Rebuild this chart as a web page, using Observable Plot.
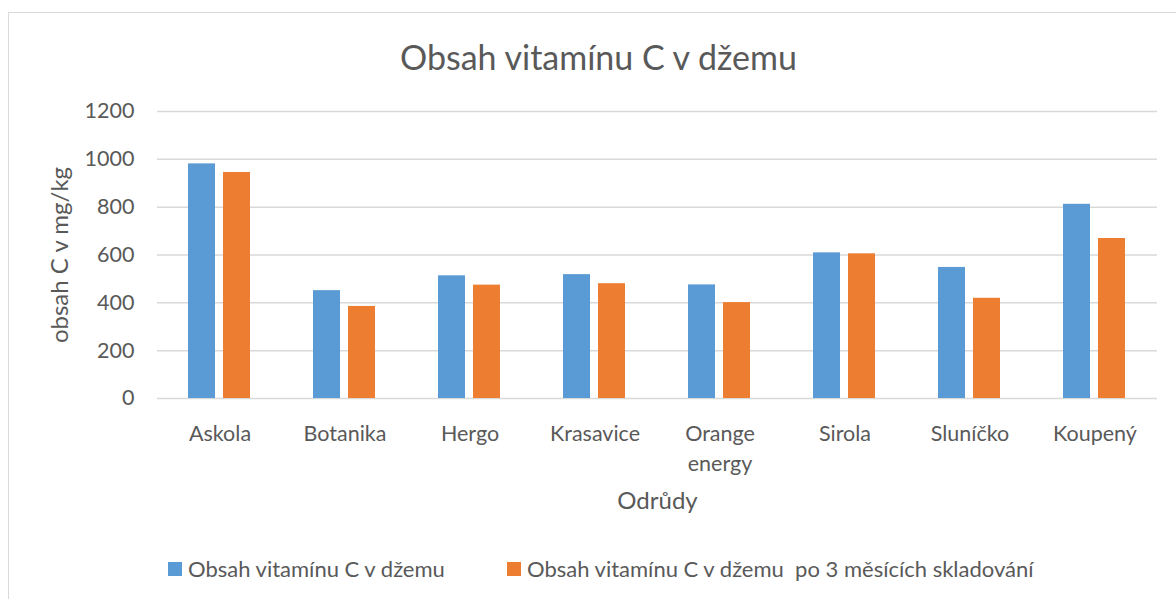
<!DOCTYPE html>
<html><head><meta charset="utf-8">
<script src="https://cdn.jsdelivr.net/npm/d3@7"></script>
<script src="https://cdn.jsdelivr.net/npm/@observablehq/plot@0.6"></script>
<style>
html,body{margin:0;padding:0;background:#fff;overflow:hidden;}
body{font-family:Lato,"Open Sans",sans-serif;color:#595959;}
#wrap{position:relative;width:1176px;height:599px;overflow:hidden;}
#frame{position:absolute;left:8px;top:12px;width:1300px;height:700px;border:1px solid #d9d9d9;box-sizing:border-box;}
#title{position:absolute;left:0;top:37px;width:1197px;text-align:center;font-size:34px;line-height:40px;white-space:nowrap;}
#chart{position:absolute;left:0;top:90px;}
#legend{position:absolute;top:556px;left:0;width:1176px;height:26px;font-size:22px;line-height:26px;}
.item{position:absolute;top:0;display:flex;align-items:center;white-space:pre;}
.sw{width:14px;height:14px;margin-right:6px;flex:none;}
</style></head>
<body>
<div id="wrap">
  <div id="frame"></div>
  <div id="title">Obsah vitamínu C v džemu</div>
  <div id="chart"></div>
  <div id="legend"></div>
</div>
<script>
const categories = ["Askola","Botanika","Hergo","Krasavice","Orange energy","Sirola","Sluníčko","Koupený"];
const xTickLabels = ["Askola","Botanika","Hergo","Krasavice","Orange\nenergy","Sirola","Sluníčko","Koupený"];
const seriesNames = ["Obsah vitamínu C v džemu","Obsah vitamínu C v džemu  po 3 měsících skladování"];
const freshValues = [981,451,513,518,475,609,548,812];
const storedValues = [945,385,474,480,401,605,419,669];
const yTicks = [0,200,400,600,800,1000,1200];
const colors = ["#5b9bd5","#ed7d31"];

const rows = [];
categories.forEach((c,i)=>{
  rows.push({category:c, series:seriesNames[0], value:freshValues[i]});
  rows.push({category:c, series:seriesNames[1], value:storedValues[i]});
});

const H = 430;
const chart = Plot.plot({
  width: 1176,
  height: H,
  marginLeft: 153,
  marginRight: 16,
  marginTop: 21,
  marginBottom: 122,
  style: {fontFamily: "Lato, 'Open Sans', sans-serif", fontSize: "21.5px", color: "#595959", background: "transparent", overflow: "visible"},
  fx: {domain: categories, padding: 0, label: null},
  x: {domain: seriesNames, paddingInner: 0.2222, paddingOuter: 0.8611, axis: null},
  y: {domain: [0,1200], label: null},
  color: {domain: seriesNames, range: colors},
  marks: [
    Plot.ruleY(yTicks, {stroke: "#d9d9d9", strokeWidth: 1.5}),
    Plot.barY(rows, {fx: "category", x: "series", y: "value", fill: "series"}),
    Plot.axisY(yTicks, {tickSize: 0, tickPadding: 23, tickFormat: d => String(d), label: null, fill: "#595959"}),
    Plot.axisY({ticks: [], label: "obsah C v mg/kg", labelArrow: "none", labelAnchor: "center", labelOffset: 107, fontSize: 24, fill: "#595959"}),
    Plot.axisFx({anchor: "bottom", tickSize: 0, tickPadding: 22, lineHeight: 1.37, tickFormat: d => xTickLabels[categories.indexOf(d)], label: null, fill: "#595959"}),
    Plot.axisFx({anchor: "bottom", ticks: [], label: "Odrůdy", labelArrow: "none", labelAnchor: "center", labelOffset: 110, fontSize: 24, fill: "#595959"})
  ]
});
document.getElementById("chart").appendChild(chart);

const legend = document.getElementById("legend");
const legendLeft = [168, 507];
seriesNames.forEach((s,i)=>{
  const it = document.createElement("div");
  it.className = "item";
  it.style.left = legendLeft[i] + "px";
  const sw = document.createElement("span");
  sw.className = "sw";
  sw.style.background = colors[i];
  const t = document.createElement("span");
  t.textContent = s;
  it.appendChild(sw); it.appendChild(t);
  legend.appendChild(it);
});
</script>
</body></html>
